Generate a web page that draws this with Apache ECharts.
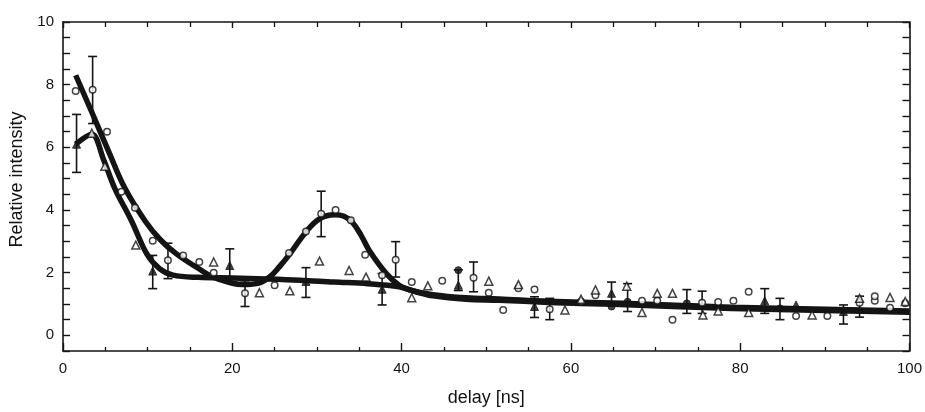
<!DOCTYPE html>
<html>
<head>
<meta charset="utf-8">
<script src="https://cdn.jsdelivr.net/npm/echarts@6/dist/echarts.min.js"></script>
<style>
html,body{margin:0;padding:0;background:#fff;}
#chart{width:925px;height:412px;}
</style>
</head>
<body>
<div id="chart"></div>
<script>
// ---- data ----
const yLabelValues = [0, 2, 4, 6, 8, 10];
const xLabelValues = [0, 20, 40, 60, 80, 100];

// fit curve A (circles, with bump)
const fitAX = [1.5, 3.6, 5.5, 7.3, 9.7, 11.5, 13.4, 16.2, 17.7, 19.5, 21.2, 23.0, 24.4, 25.6, 26.8, 28.7, 30.3, 32.1, 33.2, 34.2, 35.2, 36.2, 38.2, 39.7, 40.9, 43.7, 47.6, 51.5, 57.4, 65.0, 79.0, 100];
const fitAY = [8.3, 7.0, 5.8, 4.7, 3.65, 3.05, 2.6, 2.1, 1.86, 1.7, 1.62, 1.66, 1.86, 2.2, 2.6, 3.3, 3.72, 3.85, 3.8, 3.6, 3.2, 2.7, 1.97, 1.6, 1.45, 1.3, 1.2, 1.16, 1.09, 1.03, 0.9, 0.78];

// fit curve B (triangles)
const fitBX = [1.5, 3.4, 4.8, 6.1, 8.1, 9.9, 11.4, 13.0, 16.0, 20.0, 24.0, 28.0, 32.0, 36.0, 39.7, 41.7, 43.7, 47.6, 51.5, 57.4, 65.0, 79.0, 100];
const fitBY = [6.1, 6.42, 5.6, 4.7, 3.65, 2.6, 2.13, 1.92, 1.85, 1.83, 1.8, 1.76, 1.7, 1.65, 1.55, 1.39, 1.26, 1.15, 1.12, 1.05, 0.99, 0.86, 0.74];

// open circles
const circX = [1.5, 3.5, 5.2, 6.9, 8.5, 10.6, 12.4, 14.2, 16.1, 17.8, 21.5, 25.0, 26.7, 28.7, 30.5, 32.2, 34.0, 35.7, 37.7, 39.3, 41.2, 44.8, 48.5, 50.3, 52.0, 53.8, 55.7, 57.5, 61.2, 62.9, 68.4, 70.2, 72.0, 75.5, 77.4, 79.2, 81.0, 86.6, 90.3, 94.1, 95.9, 95.9, 97.7, 99.5];
const circY = [7.8, 7.84, 6.5, 4.58, 4.07, 3.02, 2.4, 2.55, 2.34, 2.0, 1.34, 1.6, 2.63, 3.31, 3.88, 4.0, 3.67, 2.57, 1.92, 2.41, 1.7, 1.74, 1.84, 1.36, 0.81, 1.5, 1.46, 0.83, 1.08, 1.28, 1.1, 1.1, 0.5, 1.04, 1.06, 1.1, 1.39, 0.62, 0.62, 1.04, 1.1, 1.25, 0.88, 1.02];

// open triangles
const triX = [3.4, 4.95, 8.6, 17.8, 23.2, 26.8, 30.3, 33.8, 35.8, 41.2, 43.1, 50.3, 53.8, 59.3, 61.2, 62.9, 66.6, 68.4, 70.2, 72.0, 75.6, 77.4, 81.0, 88.5, 94.1, 97.7, 99.5];
const triY = [6.45, 5.4, 2.88, 2.34, 1.36, 1.42, 2.37, 2.07, 1.86, 1.2, 1.58, 1.73, 1.62, 0.81, 1.15, 1.45, 1.57, 0.73, 1.34, 1.34, 0.65, 0.78, 0.73, 0.65, 1.18, 1.21, 1.08];

// filled triangles
const fTriX = [1.6, 10.6, 19.7, 28.7, 37.7, 46.7, 55.7, 64.8, 82.9, 86.6, 92.2];
const fTriY = [6.1, 2.05, 2.23, 1.72, 1.47, 1.6, 0.92, 1.34, 1.1, 0.97, 0.76];

// filled circles
const fCircX = [46.7, 64.8, 66.7, 73.7, 84.7];
const fCircY = [2.08, 0.92, 1.07, 1.02, 0.86];

// error bars
const errX    = [1.6, 3.5, 10.6, 12.4, 19.7, 21.5, 28.7, 30.5, 37.7, 39.3, 46.7, 48.5, 55.7, 57.5, 64.8, 66.7, 73.7, 75.5, 82.9, 84.7, 92.2, 94.1];
const errLow  = [5.2, 6.76, 1.49, 1.81, 1.83, 0.92, 1.21, 3.15, 0.97, 1.86, 1.43, 1.39, 0.57, 0.5, 1.02, 0.76, 0.7, 0.7, 0.7, 0.5, 0.36, 0.58];
const errHigh = [7.05, 8.9, 2.55, 2.94, 2.76, 1.74, 2.16, 4.6, 1.97, 2.99, 2.09, 2.34, 1.23, 1.18, 1.7, 1.65, 1.46, 1.41, 1.49, 1.18, 0.97, 1.25];

// ---- build ----
const zip = (a, b) => a.map((v, i) => [v, b[i]]);
const ink = '#141414';
const font = 'Liberation Sans, Arial, sans-serif';

function renderErr(params, api) {
  const x = api.value(0), lo = api.value(1), hi = api.value(2);
  const p1 = api.coord([x, lo]), p2 = api.coord([x, hi]);
  const w = 4.5;
  const st = { stroke: ink, lineWidth: 1.6 };
  return {
    type: 'group',
    children: [
      { type: 'line', shape: { x1: p1[0], y1: p1[1], x2: p2[0], y2: p2[1] }, style: st },
      { type: 'line', shape: { x1: p1[0] - w, y1: p1[1], x2: p1[0] + w, y2: p1[1] }, style: st },
      { type: 'line', shape: { x1: p2[0] - w, y1: p2[1], x2: p2[0] + w, y2: p2[1] }, style: st }
    ]
  };
}

const chart = echarts.init(document.getElementById('chart'));
const axLine = { show: true, onZero: false, lineStyle: { color: ink, width: 1.6 } };

chart.setOption({
  animation: false,
  backgroundColor: '#fff',
  grid: { left: 63, right: 13, top: 22, bottom: 58 },
  xAxis: [
    {
      type: 'value', min: 0, max: 100, interval: 20, position: 'bottom',
      name: 'delay [ns]', nameLocation: 'middle', nameGap: 38,
      nameTextStyle: { fontFamily: font, fontSize: 18, color: ink },
      axisLine: axLine,
      axisTick: { inside: true, length: 8, lineStyle: { color: ink, width: 1.4 } },
      minorTick: { show: true, splitNumber: 4, length: 4, lineStyle: { color: ink, width: 1.3 } },
      axisLabel: { fontFamily: font, fontSize: 15, color: ink, margin: 10,
        formatter: v => (xLabelValues.indexOf(v) >= 0 ? String(v) : '') },
      splitLine: { show: false }
    },
    {
      type: 'value', min: 0, max: 100, interval: 20, position: 'top',
      axisLine: axLine,
      axisTick: { inside: true, length: 6, lineStyle: { color: ink, width: 1.4 } },
      minorTick: { show: true, splitNumber: 4, length: 5, lineStyle: { color: ink, width: 1.3 } },
      axisLabel: { show: false },
      splitLine: { show: false }
    }
  ],
  yAxis: [
    {
      type: 'value', min: -0.5, max: 10, interval: 0.5, position: 'left',
      name: 'Relative intensity', nameLocation: 'middle', nameGap: 34,
      nameTextStyle: { fontFamily: font, fontSize: 18, color: ink, padding: [0, 0, 0, 14] },
      axisLine: axLine,
      axisTick: { inside: true, length: 7, lineStyle: { color: ink, width: 1.4 } },
      axisLabel: { fontFamily: font, fontSize: 15, color: ink, margin: 9,
        formatter: v => {
          const r = Math.round(v * 1000) / 1000;
          return yLabelValues.indexOf(r) >= 0 ? String(r) : '';
        } },
      splitLine: { show: false }
    },
    {
      type: 'value', min: -0.5, max: 10, interval: 0.5, position: 'right',
      axisLine: axLine,
      axisTick: { inside: true, length: 7, lineStyle: { color: ink, width: 1.4 } },
      axisLabel: { show: false },
      splitLine: { show: false }
    }
  ],
  series: [
    {
      name: 'fitA', type: 'line', data: zip(fitAX, fitAY), showSymbol: false, symbol: 'none',
      smooth: 0.4, lineStyle: { color: ink, width: 5.5 }, z: 3
    },
    {
      name: 'fitB', type: 'line', data: zip(fitBX, fitBY), showSymbol: false, symbol: 'none',
      smooth: 0.35, lineStyle: { color: ink, width: 5.5 }, z: 3
    },
    {
      name: 'err', type: 'custom', renderItem: renderErr,
      data: errX.map((x, i) => [x, errLow[i], errHigh[i]]),
      encode: { x: 0, y: [1, 2] }, z: 4
    },
    {
      name: 'circles', type: 'scatter', data: zip(circX, circY), symbol: 'circle', symbolSize: 6.5,
      itemStyle: { color: '#fff', borderColor: ink, borderWidth: 1.5 }, z: 5
    },
    {
      name: 'triangles', type: 'scatter', data: zip(triX, triY), symbol: 'triangle', symbolSize: 8,
      itemStyle: { color: '#fff', borderColor: ink, borderWidth: 1.5 }, z: 5
    },
    {
      name: 'filledTri', type: 'scatter', data: zip(fTriX, fTriY), symbol: 'triangle', symbolSize: 8,
      itemStyle: { color: ink, borderColor: ink, borderWidth: 1 }, z: 6
    },
    {
      name: 'filledCirc', type: 'scatter', data: zip(fCircX, fCircY), symbol: 'circle', symbolSize: 7,
      itemStyle: { color: ink, borderColor: ink, borderWidth: 1 }, z: 6
    }
  ]
});
</script>
</body>
</html>
